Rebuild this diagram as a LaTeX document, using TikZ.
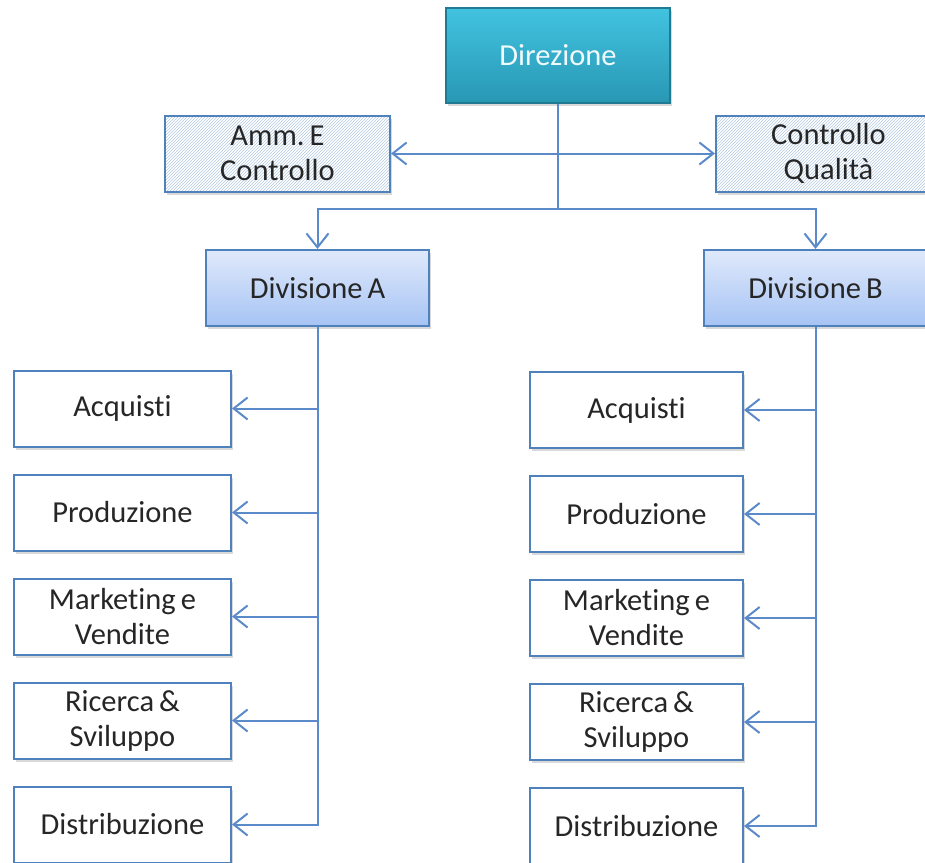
\documentclass[tikz,border=0pt]{standalone}
\usepackage{fontspec}
\setmainfont[Ligatures={NoCommon}]{Carlito}
\usepackage{xcolor}
\usetikzlibrary{arrows.meta,positioning,patterns,shadows}
\definecolor{Frame}{HTML}{4F81BD}
\definecolor{Wire}{HTML}{5A8AC9}
\definecolor{TealTop}{HTML}{42C3E0}
\definecolor{TealBot}{HTML}{2897B4}
\definecolor{TealEdge}{HTML}{1F7A92}
\definecolor{DivTop}{HTML}{E0E9FB}
\definecolor{DivBot}{HTML}{A6C3F4}
\definecolor{Ink}{HTML}{262626}

\begin{document}
\begin{tikzpicture}[x=1pt,y=-1pt,font=\fontsize{30.5}{35}\selectfont,
    >={Straight Barb[length=14pt,width=22pt,line width=2pt]},
    box/.style={draw=Frame,line width=2pt,text=Ink,align=center,
      minimum height=76pt,drop shadow={shadow xshift=2pt,shadow yshift=-3pt,opacity=.3}},
    unit/.style={box,fill=white,minimum width=217pt},
    staff/.style={box,minimum width=225pt,preaction={fill=white},
      pattern=north east lines,pattern color=Frame!42},
    division/.style={box,top color=DivTop,bottom color=DivBot,minimum width=223pt},
    head/.style={box,draw=TealEdge,top color=TealTop,bottom color=TealBot,
      text=white!92!TealTop,minimum width=224pt,minimum height=95pt},
    link/.style={draw=Wire,line width=2pt}]
  \useasboundingbox (0,0) rectangle (925,862);

  % top of the chart
  \node[head] (dir) at (558,55.5) {Direzione};
  \node[staff] (amm) at (277.5,153.5) {Amm.\,E\\Controllo};
  \node[staff] (cq) at (828.5,153.5) {Controllo\\Qualità};
  \node[division] (divA) at (317.5,288) {Divisione\,A};
  \node[division] (divB) at (815.5,288) {Divisione\,B};

  % functions of each division
  \foreach \name/\txt [count=\i from 0] in {acq/Acquisti,prod/Produzione,
      mkt/{Marketing\,e\\Vendite},rs/{Ricerca\,\&\\Sviluppo},dist/Distribuzione}{
    \node[unit] (a-\name) at (122.5,408.5+104*\i) {\txt};
    \node[unit,minimum width=213pt] (b-\name) at (636.5,410+104*\i) {\txt};
    \draw[link,->] (divA.south) |- (a-\name);
    \draw[link,->] (divB.south) |- (b-\name);
  }

  \coordinate (hub) at (558,209);
  \draw[link] (dir) -- (hub);
  \draw[link,<->] (amm) -- (cq);
  \draw[link,->] (hub) -| (divA);
  \draw[link,->] (hub) -| (divB);
\end{tikzpicture}
\end{document}
